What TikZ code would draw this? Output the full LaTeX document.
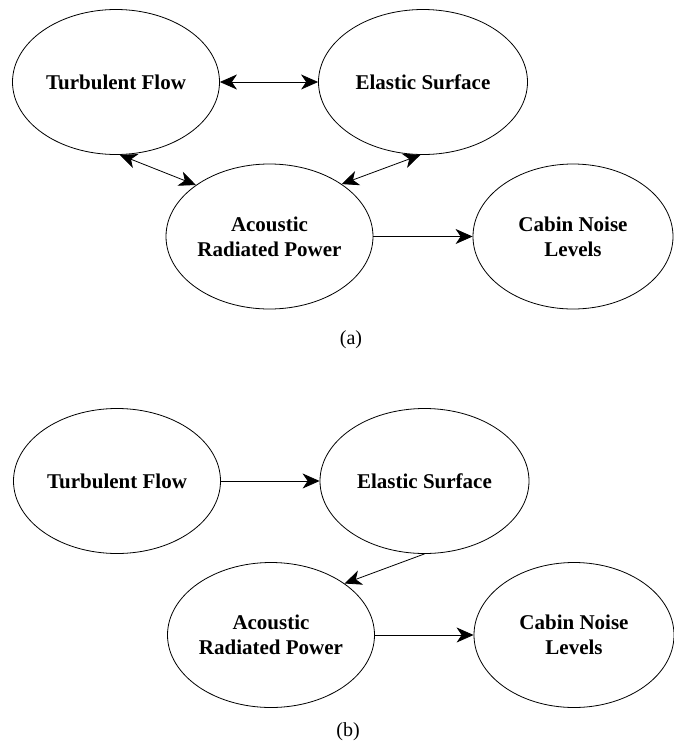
\documentclass[tikz,border=0pt]{standalone}
\usepackage{fontspec}
\setmainfont{Liberation Serif}
\usetikzlibrary{shapes.geometric,arrows.meta}

\begin{document}
\begin{tikzpicture}[x=1pt,y=-1pt,line width=0.8pt]
  % `block' is used for the ellipses, `link' and `both' for the connectors.
  % `caption' is used for the (a) and (b) labels.
  \tikzstyle{block} = [draw,shape=ellipse,minimum width=207pt,minimum height=145pt,inner sep=0pt,align=center,font=\fontsize{21}{25}\selectfont\bfseries]
  \tikzstyle{link} = [-{Stealth[length=17pt,width=15pt,inset=5pt]}]
  \tikzstyle{both} = [{Stealth[length=17pt,width=15pt,inset=5pt]}-{Stealth[length=17pt,width=15pt,inset=5pt]}]
  \tikzstyle{caption} = [font=\fontsize{20}{24}\selectfont]
  \useasboundingbox (0,0) rectangle (673,745);
  %
  % Part (a).
  \node[block] (flowA) at (116,82) {Turbulent Flow};
  \node[block,minimum width=209pt] (surfA) at (423,82) {Elastic Surface};
  \node[block] (powerA) at (269.5,236.5) {Acoustic\\Radiated Power};
  \node[block,minimum width=200pt] (cabinA) at (573,236.5) {Cabin Noise\\Levels};
  \node[caption] (capA) at (351,340) {(a)};
  \draw[both] (flowA.east) -- (surfA.west);
  \draw[both] (flowA.273) -- (powerA.145);
  \draw[both] (surfA.268) -- (powerA.36);
  \draw[link] (powerA.east) -- (cabinA.west);
  %
  % Part (b).
  \node[block] (flowB) at (117,481) {Turbulent Flow};
  \node[block,minimum width=209pt] (surfB) at (424.5,481) {Elastic Surface};
  \node[block] (powerB) at (271,635) {Acoustic\\Radiated Power};
  \node[block,minimum width=200pt] (cabinB) at (574,635) {Cabin Noise\\Levels};
  \node[caption] (capB) at (348,732) {(b)};
  \draw[link] (flowB.east) -- (surfB.west);
  \draw[link] (surfB.south) -- (powerB.35);
  \draw[link] (powerB.east) -- (cabinB.west);
  %
\end{tikzpicture}
\end{document}
